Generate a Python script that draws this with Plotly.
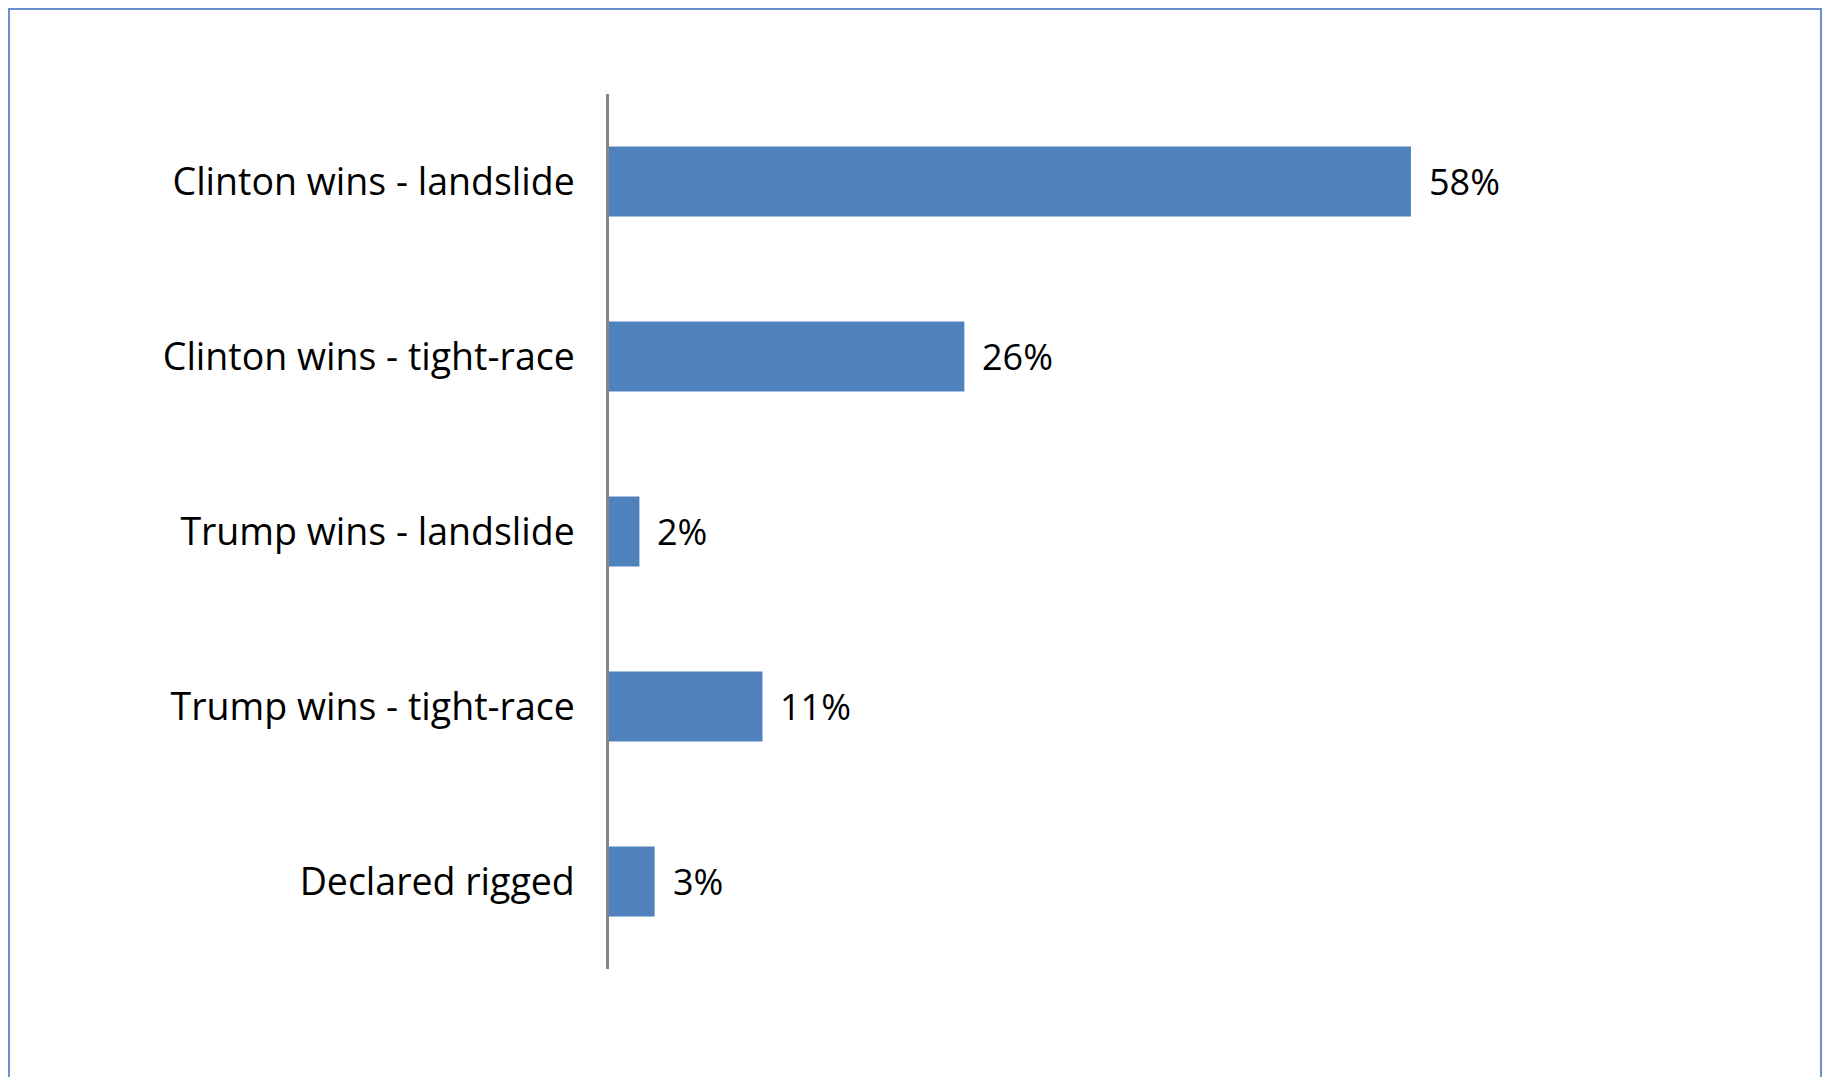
import plotly.graph_objects as go

# ---- data ----
categories = [
    "Clinton wins - landslide",
    "Clinton wins - tight-race",
    "Trump wins - landslide",
    "Trump wins - tight-race",
    "Declared rigged",
]
values = [58.0, 25.7, 2.2, 11.1, 3.3]
value_labels = ["58%", "26%", "2%", "11%", "3%"]

# ---- layout geometry (pixels, figure sits 8px inside the page) ----
W, H = 1822, 1069
ml, mr, mt, mb = 601, 184, 86, 108
plot_w = W - ml - mr
plot_h = H - mt - mb

BAR_COLOR = "#4F81BD"
FONT = "Open Sans"

fig = go.Figure()
fig.add_trace(go.Bar(
    x=values,
    y=categories,
    orientation="h",
    marker=dict(color=BAR_COLOR, line=dict(width=0)),
    hoverinfo="skip",
))

for cat, v, lab in zip(categories, values, value_labels):
    fig.add_annotation(
        x=v, y=cat, xref="x", yref="y",
        text=lab, showarrow=False,
        xanchor="left", yanchor="middle", xshift=16,
        font=dict(family=FONT, size=36, color="#000000"),
    )

# chart border (decorative frame)
bx0, bx1, by_top, by_bot = 1, 1813, 1, 1090
fig.add_shape(
    type="rect", xref="paper", yref="paper",
    x0=(bx0 - ml) / plot_w, x1=(bx1 - ml) / plot_w,
    y0=(H - mb - by_bot) / plot_h, y1=(H - mb - by_top) / plot_h,
    line=dict(color="#6792CF", width=2), fillcolor="rgba(0,0,0,0)",
    layer="above",
)

fig.update_layout(
    width=W, height=H,
    margin=dict(l=ml, r=mr, t=mt, b=mb, pad=0),
    paper_bgcolor="white", plot_bgcolor="white",
    bargap=0.6,
    showlegend=False,
    font=dict(family=FONT, size=37.5, color="#000000"),
    xaxis=dict(
        range=[0, 75], visible=False, showgrid=False, zeroline=False, fixedrange=True,
    ),
    yaxis=dict(
        autorange="reversed",
        showline=True, linecolor="#868686", linewidth=2.5,
        showgrid=False, zeroline=False, ticks="",
        ticklabelstandoff=24,
        tickfont=dict(family=FONT, size=37.5, color="#000000"),
        fixedrange=True,
    ),
)

fig.write_html("out.html", config={"displayModeBar": False})
